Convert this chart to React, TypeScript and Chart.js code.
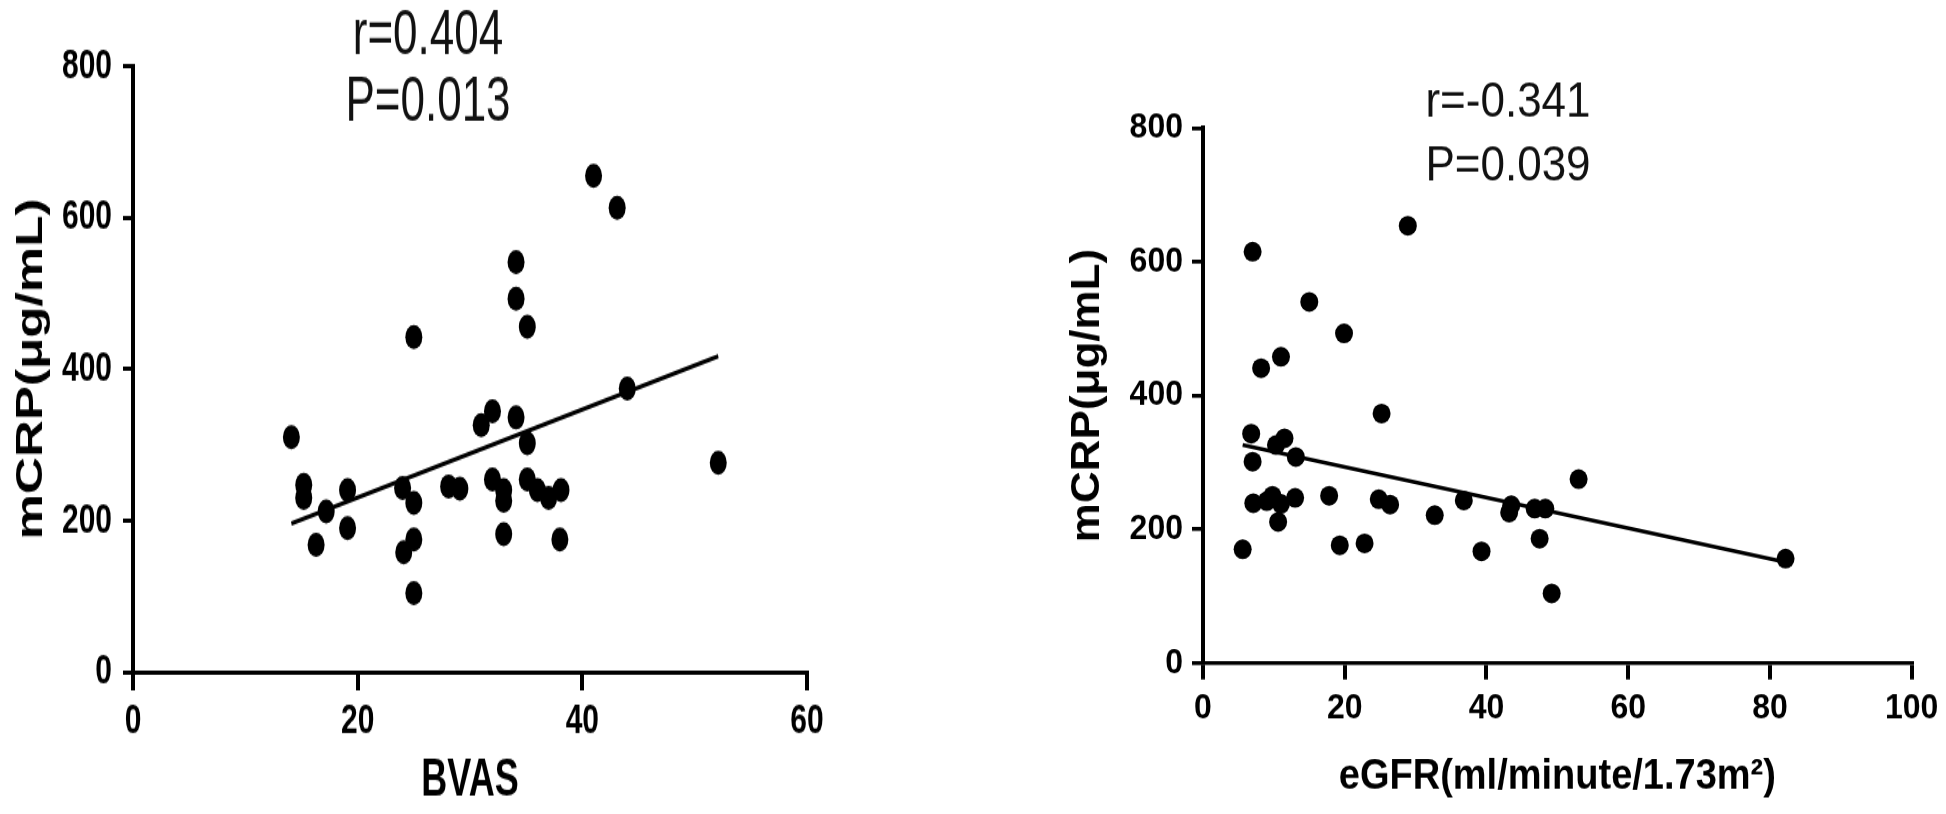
import { useEffect, useRef } from "react";
import { Chart, registerables } from "chart.js";

Chart.register(...registerables);

// ---------- data ----------
const bvasX = [14.1, 15.2, 15.2, 17.2, 16.3, 19.1, 19.1, 24.0, 25.0, 25.0, 24.1, 25.0, 25.0, 28.1, 29.1, 31.0, 32.0, 32.0, 33.0, 33.0, 33.0, 34.1, 35.1, 34.1, 34.1, 35.1, 35.1, 36.0, 37.0, 38.1, 38.0, 41.0, 43.1, 44.0, 52.1];
const bvasY = [310, 247, 230, 212, 168, 240, 190, 243, 223, 175, 158, 104, 442, 245, 242, 326, 344, 254, 240, 226, 182, 336, 302, 541, 493, 456, 254, 240, 230, 240, 175, 655, 613, 374, 276];
const bvasFitX = [14.1, 52.1];
const bvasFitY = [196, 417];

const egfrX = [5.6, 7.0, 8.2, 11.0, 15.0, 19.9, 28.9, 25.2, 6.8, 7.0, 7.1, 10.3, 11.5, 13.1, 9.8, 11.0, 10.6, 13.0, 9.0, 17.8, 19.3, 22.8, 24.8, 26.4, 32.7, 36.8, 39.3, 43.5, 43.2, 46.8, 48.3, 47.5, 49.2, 53.0, 82.2];
const egfrY = [170, 615, 441, 458, 540, 493, 654, 373, 343, 301, 239, 326, 336, 308, 250, 238, 211, 247, 242, 250, 176, 179, 245, 237, 221, 243, 167, 236, 225, 231, 231, 186, 104, 275, 156];
const egfrFitX = [5.6, 82.2];
const egfrFitY = [326, 151];

const bvasXTicks = [0, 20, 40, 60];
const egfrXTicks = [0, 20, 40, 60, 80, 100];
const yTicks = [0, 200, 400, 600, 800];

const leftStats = ["r=0.404", "P=0.013"];
const rightStats = ["r=-0.341", "P=0.039"];

const yTitle = "mCRP(μg/mL)";
const leftXTitle = "BVAS";
const rightXTitle = "eGFR(ml/minute/1.73m²)";

// ---------- helpers ----------
const FAMILY = '"Liberation Sans", Arial, Helvetica, sans-serif';
const INK = "#000";

const statsPlugin = {
  id: "statsText",
  afterDraw(chart: any, _args: any, opts: any) {
    const ctx = chart.ctx;
    ctx.save();
    ctx.fillStyle = "#111";
    ctx.font = `normal ${opts.size}px ${FAMILY}`;
    ctx.textAlign = "center";
    ctx.textBaseline = "middle";
    (opts.lines as string[]).forEach((t, i) => ctx.fillText(t, opts.x, opts.ys[i]));
    ctx.restore();
  },
};

type PanelProps = {
  left: number;
  width: number;
  height: number;
  stretch: number;
  xs: number[];
  ys: number[];
  fitX: number[];
  fitY: number[];
  xMax: number;
  xTicks: number[];
  xTitle: string;
  stats: string[];
  g: any;
};

function Panel(p: PanelProps) {
  const ref = useRef<HTMLCanvasElement | null>(null);
  useEffect(() => {
    if (!ref.current) return;
    const g = p.g;
    const pts = p.xs.map((x, i) => ({ x, y: p.ys[i] }));
    const fit = p.fitX.map((x, i) => ({ x, y: p.fitY[i] }));
    const chart = new Chart(ref.current, {
      type: "scatter",
      data: {
        datasets: [
          {
            type: "line",
            data: fit,
            borderColor: INK,
            borderWidth: g.fitWidth,
            pointRadius: 0,
            fill: false,
            tension: 0,
            order: 2,
          } as any,
          {
            type: "scatter",
            data: pts,
            pointRadius: g.dot,
            pointHoverRadius: g.dot,
            backgroundColor: INK,
            borderWidth: 0,
            order: 1,
          } as any,
        ],
      },
      options: {
        animation: false,
        responsive: false,
        events: [],
        layout: { padding: { left: 0, top: g.top, right: g.right, bottom: 0 } },
        plugins: {
          legend: { display: false },
          tooltip: { enabled: false },
          statsText: { lines: p.stats, x: g.statX, ys: g.statYs, size: g.statSize },
        } as any,
        scales: {
          x: {
            type: "linear",
            min: 0,
            max: p.xMax,
            afterBuildTicks: (s: any) => {
              s.ticks = p.xTicks.map((v) => ({ value: v }));
            },
            afterFit: (s: any) => {
              s.height = g.xAxisH;
            },
            grid: {
              drawOnChartArea: false,
              drawTicks: true,
              tickLength: g.xTickLen,
              tickWidth: 4,
              lineWidth: 4,
              color: INK,
              tickColor: INK,
            },
            border: { display: true, color: INK, width: g.xBorder },
            ticks: {
              color: INK,
              font: { family: FAMILY, size: g.tickSize, weight: "bold" },
              padding: g.xTickPad,
              maxRotation: 0,
              autoSkip: false,
            },
            title: {
              display: true,
              text: p.xTitle,
              color: INK,
              font: { family: FAMILY, size: g.xTitleSize, weight: "bold" },
              padding: { top: 0, bottom: g.xTitlePad },
            },
          },
          y: {
            type: "linear",
            min: 0,
            max: 800,
            afterBuildTicks: (s: any) => {
              s.ticks = yTicks.map((v) => ({ value: v }));
            },
            afterFit: (s: any) => {
              s.width = g.yAxisW;
            },
            grid: {
              drawOnChartArea: false,
              drawTicks: true,
              tickLength: g.yTickLen,
              tickWidth: g.xBorder,
              lineWidth: g.xBorder,
              color: INK,
              tickColor: INK,
            },
            border: { display: true, color: INK, width: 4 },
            ticks: {
              color: INK,
              font: { family: FAMILY, size: g.tickSize, weight: "bold" },
              padding: g.yTickPad,
              autoSkip: false,
            },
            title: {
              display: true,
              text: yTitle,
              color: INK,
              font: { family: FAMILY, size: g.yTitleSize, weight: "bold" },
              padding: { top: g.yTitlePad, bottom: 0 },
            },
          },
        },
      } as any,
      plugins: [statsPlugin as any],
    });
    return () => chart.destroy();
  }, []);

  return (
    <div
      style={{
        position: "absolute",
        left: p.left,
        top: 0,
        width: p.width,
        height: p.height,
        transform: `scaleY(${p.stretch})`,
        transformOrigin: "0 0",
      }}
    >
      <canvas
        ref={ref}
        width={p.width}
        height={p.height}
        style={{ width: p.width + "px", height: p.height + "px", display: "block" }}
      />
    </div>
  );
}

export default function App() {
  const HL = 573;
  const HR = 740;
  return (
    <div style={{ position: "absolute", left: 0, top: 0, width: 1946, height: 814, background: "#fff", overflow: "hidden" }}>
      <Panel
        left={0}
        width={960}
        height={HL}
        stretch={814 / HL}
        xs={bvasX}
        ys={bvasY}
        fitX={bvasFitX}
        fitY={bvasFitY}
        xMax={60}
        xTicks={bvasXTicks}
        xTitle={leftXTitle}
        stats={leftStats}
        g={{
          top: 46.5,
          right: 153,
          xAxisH: 100,
          yAxisW: 133,
          xTickLen: 13,
          yTickLen: 10,
          xBorder: 3,
          tickSize: 30,
          xTickPad: 3.5,
          yTickPad: 11,
          xTitleSize: 36,
          xTitlePad: 1,
          yTitleSize: 36,
          yTitlePad: 10,
          dot: 8.5,
          fitWidth: 3,
          statX: 428,
          statYs: [26, 73],
          statSize: 44,
        }}
      />
      <Panel
        left={960}
        width={986}
        height={HR}
        stretch={814 / HR}
        xs={egfrX}
        ys={egfrY}
        fitX={egfrFitX}
        fitY={egfrFitY}
        xMax={100}
        xTicks={egfrXTicks}
        xTitle={rightXTitle}
        stats={rightStats}
        g={{
          top: 116.4,
          right: 34,
          xAxisH: 137.3,
          yAxisW: 243,
          xTickLen: 15,
          yTickLen: 11,
          xBorder: 3.6,
          tickSize: 32,
          xTickPad: 7.6,
          yTickPad: 9,
          xTitleSize: 38,
          xTitlePad: 11,
          yTitleSize: 40,
          yTitlePad: 104,
          dot: 9,
          fitWidth: 3.5,
          statX: 548,
          statYs: [94, 151.5],
          statSize: 44,
        }}
      />
    </div>
  );
}
